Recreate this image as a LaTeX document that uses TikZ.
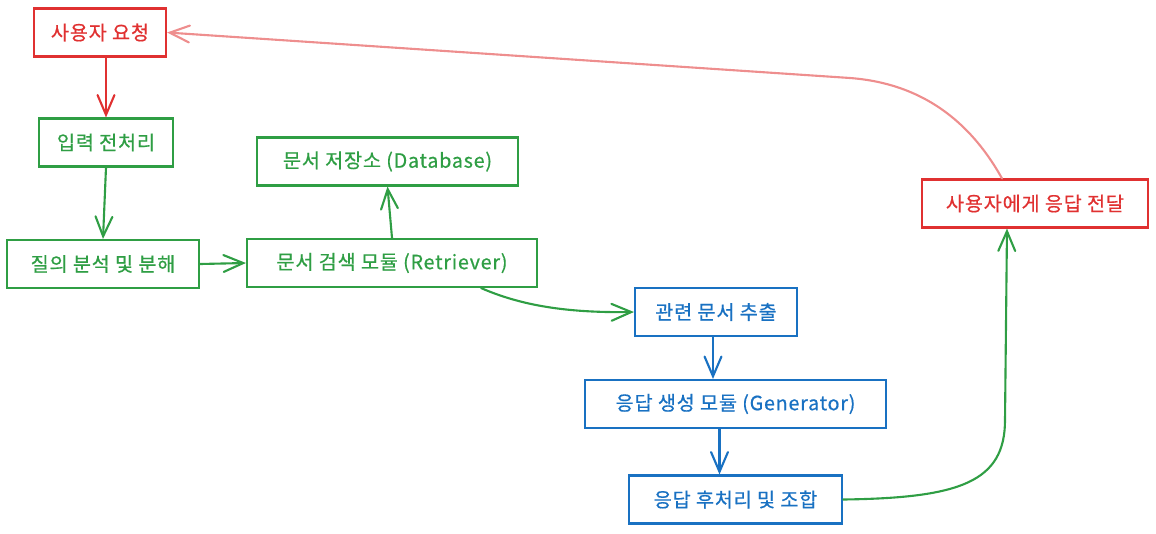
\documentclass[tikz,border=0pt]{standalone}
\usepackage{fontspec}
\setmainfont{Noto Sans CJK KR}[LetterSpace=4, FakeBold=0.6]
\usetikzlibrary{arrows.meta}

\definecolor{sketchred}{HTML}{E03131}
\definecolor{sketchgreen}{HTML}{2F9E44}
\definecolor{sketchblue}{HTML}{1971C2}

\tikzset{
  stage/.style={draw, line width=1.5pt, minimum height=1.2cm, inner sep=0pt, font=\fontsize{14}{16}\selectfont},
  redstage/.style={stage, draw=sketchred, text=sketchred},
  greenstage/.style={stage, draw=sketchgreen, text=sketchgreen},
  bluestage/.style={stage, draw=sketchblue, text=sketchblue},
  flow/.style={line width=1.5pt, line cap=round, -{Straight Barb[length=14pt, width=12pt, line cap=round]}}
}

\begin{document}
\begin{tikzpicture}[x=0.025cm, y=-0.025cm]
\useasboundingbox (0, 0) rectangle (1156, 533);
\node[redstage, minimum width=3.3cm] (request) at (100, 32.5) {사용자 요청};
\node[greenstage, minimum width=3.35cm] (preproc) at (106, 142.5) {입력 전처리};
\node[greenstage, minimum width=4.8cm] (query) at (103, 264) {질의 분석 및 분해};
\node[greenstage, minimum width=7.25cm] (retriever) at (392, 263) {문서 검색 모듈 (Retriever)};
\node[greenstage, minimum width=6.525cm] (store) at (387.5, 161.5) {문서 저장소 (Database)};
\node[bluestage, minimum width=4.05cm] (extract) at (716, 312) {관련 문서 추출};
\node[bluestage, minimum width=7.525cm] (generator) at (735.5, 404) {응답 생성 모듈 (Generator)};
\node[bluestage, minimum width=5.325cm] (postproc) at (735.5, 499.5) {응답 후처리 및 조합};
\node[redstage, minimum width=5.65cm] (deliver) at (1035, 203.5) {사용자에게 응답 전달};

\draw[flow, sketchred] (request.south -| preproc) -- (preproc.north);
\draw[flow, sketchgreen] (preproc.south) -- (query.north);
\draw[flow, sketchgreen] (query.east) -- (retriever.west);
\draw[flow, sketchgreen] (retriever.north) -- (store.south);
\draw[flow, sketchgreen] ([xshift=-1.425cm]retriever.south east) .. controls (520, 305) and (565, 313) .. (extract.west);
\draw[flow, sketchblue] ([xshift=-0.075cm]extract.south) -- ([xshift=-0.075cm]extract.south |- generator.north);
\draw[flow, sketchblue] ([xshift=-0.4cm]generator.south) -- ([xshift=-0.4cm]postproc.north);
\draw[flow, sketchgreen] (postproc.east) .. controls (960, 498) and (1005, 482) .. (1005, 420) -- ([xshift=-0.7cm]deliver.south);
\draw[flow, sketchred!55] ([xshift=-0.825cm]deliver.north) .. controls (975, 130) and (930, 84) .. (850, 78) -- (request.east);
\end{tikzpicture}
\end{document}
